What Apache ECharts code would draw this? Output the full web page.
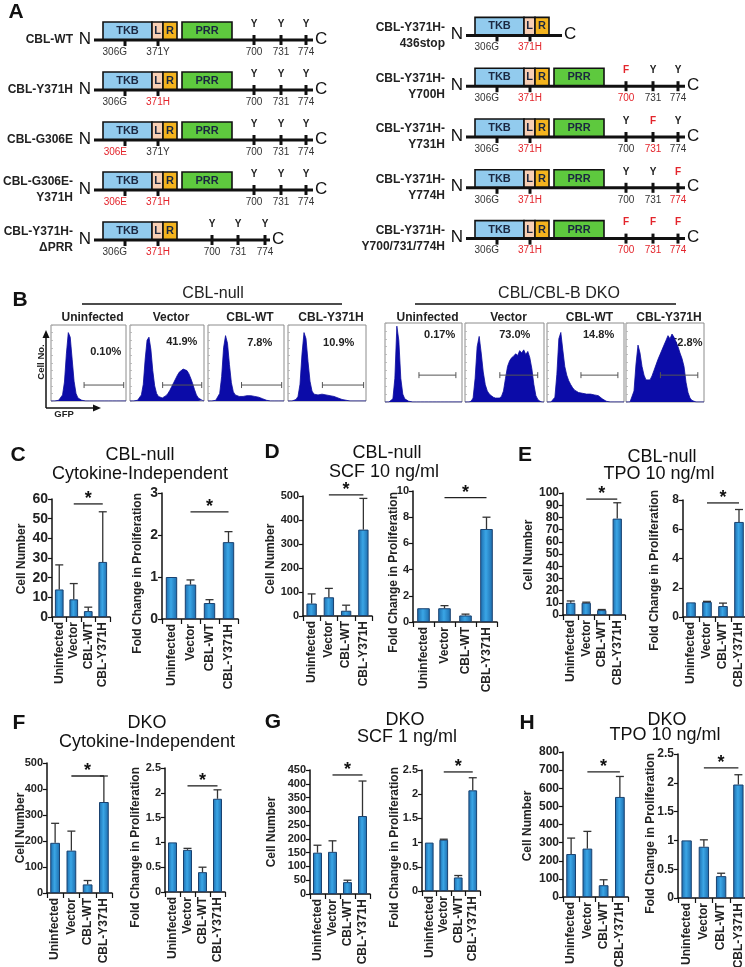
<!DOCTYPE html>
<html><head><meta charset="utf-8">
<script src="https://cdn.jsdelivr.net/npm/echarts@6/dist/echarts.min.js"></script>
<style>html,body{margin:0;padding:0;background:#fff}#c{width:745px;height:967px}</style>
</head><body><div id="c"></div>
<script>
const FONT = '"Liberation Sans", Arial, Helvetica, sans-serif';
const NARROW = '"Liberation Sans Narrow", "Liberation Sans", Arial, sans-serif';

// ================= DATA =================
// ---- Panel A: constructs ----
const aLeftNames   = ['CBL-WT','CBL-Y371H','CBL-G306E','CBL-G306E-\nY371H','CBL-Y371H-\nΔPRR'];
const aLeftSite306 = ['306G','306G','306E','306E','306G'];
const aLeftSite371 = ['371Y','371H','371Y','371H','371H'];
const aLeftMut306  = [false,false,true,true,false];
const aLeftMut371  = [false,true,false,true,true];
const aLeftHasPRR  = [true,true,true,true,false];
const aLeftTyr     = [['Y','Y','Y'],['Y','Y','Y'],['Y','Y','Y'],['Y','Y','Y'],['Y','Y','Y']];
const aLeftTyrPos  = [[160,187,212],[160,187,212],[160,187,212],[160,187,212],[118,144,171]];
const aLeftLineEnd = [219,219,219,219,176];

const aRightNames   = ['CBL-Y371H-\n436stop','CBL-Y371H-\nY700H','CBL-Y371H-\nY731H','CBL-Y371H-\nY774H','CBL-Y371H-\nY700/731/774H'];
const aRightSite306 = ['306G','306G','306G','306G','306G'];
const aRightSite371 = ['371H','371H','371H','371H','371H'];
const aRightMut306  = [false,false,false,false,false];
const aRightMut371  = [true,true,true,true,true];
const aRightHasPRR  = [false,true,true,true,true];
const aRightTyr     = [[],['F','Y','Y'],['Y','F','Y'],['Y','Y','F'],['F','F','F']];
const aRightTyrPos  = [[],[160,187,212],[160,187,212],[160,187,212],[160,187,212]];
const aRightLineEnd = [96,219,219,219,219];

const tyrNumbers  = ['700','731','774'];
const domainNames = ['TKB','L','R','PRR'];
const domainStart = [9,58,69,88];
const domainEnd   = [58,69,83,138];
const site306Pos = 31, site371Pos = 64;

// ---- Panel B: GFP histograms (40 bins, % of box height) ----
const histTitles = ['Uninfected','Vector','CBL-WT','CBL-Y371H'];
const nullUninf = [0,0,0,0,1,3,8,25,62,90,84,55,26,10,4,2,1,0,0,0, 0,0,0,0,0,0,0,0,0,0, 0,0,0,0,0,0,0,0,0,0];
const nullVector= [0,0,0,0,1,3,8,22,55,80,84,68,40,20,10,6,4,4,5,7, 10,14,19,24,29,34,38,40,42,41, 40,36,30,23,15,8,4,2,1,0];
const nullWT    = [0,0,0,0,1,3,10,32,70,86,76,48,24,12,8,7,6,6,6,6, 7,7,7,6,6,6,5,4,3,2, 1,1,0,0,0,0,0,0,0,0];
const nullY371H = [0,0,0,0,2,6,22,62,90,82,52,26,13,9,8,8,9,9,9,8, 8,7,7,6,5,4,3,2,1,1, 0,0,0,0,0,0,0,0,0,0];
const dkoUninf  = [0,0,0,1,4,30,96,78,30,10,4,2,1,0,0,0,0,0,0,0, 0,0,0,0,0,0,0,0,0,0, 0,0,0,0,0,0,0,0,0,0];
const dkoVector = [0,0,0,1,5,30,70,83,62,38,22,14,10,8,6,5,5,5,7,14, 30,45,52,56,58,61,59,65,62,66, 60,64,56,42,22,8,3,1,0,0];
const dkoWT     = [0,0,0,1,6,35,80,88,66,45,34,27,22,18,15,13,12,11,11,11, 10,10,10,10,9,9,8,6,4,2, 1,0,0,0,0,0,0,0,0,0];
const dkoY371H  = [0,0,0,2,14,48,72,62,45,34,28,26,28,33,40,47,54,60,66,72, 78,84,80,86,82,76,70,62,55,45, 25,12,5,2,1,0,0,0,0,0];
const nullPct = ['0.10%','41.9%','7.8%','10.9%'];
const dkoPct  = ['0.17%','73.0%','14.8%','52.8%'];
const nullGate = [17.2, 37.8, 21];   // start bin, end bin, level
const dkoGate  = [17.2, 35.9, 34];

// ---- Panels C-H: bar charts ----
const barCats = ['Uninfected','Vector','CBL-WT','CBL-Y371H'];
const cNumMean = [14,9,3,28],      cNumSD = [12.5,8,2,25.5];
const cFoldMean= [1,0.82,0.38,1.83],cFoldSD= [0,0.11,0.08,0.25];
const dNumMean = [52,78,22,360],   dNumSD = [40,37,23,130];
const dFoldMean= [1.05,1.05,0.5,7.1],dFoldSD=[0,0.2,0.1,0.9];
const eNumMean = [10,10,4,79],     eNumSD = [1.5,0.5,0.5,13];
const eFoldMean= [1,1.03,0.75,6.5],eFoldSD= [0,0.04,0.2,0.85];
const fNumMean = [193,163,33,350], fNumSD = [75,75,15,100];
const fFoldMean= [1,0.85,0.4,1.88],fFoldSD= [0,0.03,0.1,0.18];
const gNumMean = [150,153,43,283], gNumSD = [27,40,7,127];
const gFoldMean= [1,1.06,0.28,2.08],gFoldSD=[0,0.01,0.04,0.26];
const hNumMean = [237,267,65,552], hNumSD = [88,95,30,113];
const hFoldMean= [1,0.89,0.38,1.97],hFoldSD=[0,0.12,0.05,0.17];
const numAxisMax  = [60,500,100,500,450,800];
const numAxisInt  = [10,100,10,100,50,100];
const foldAxisMax = [3,10,8,2.5,2.5,2.5];
const foldAxisInt = [1,2,2,0.5,0.5,0.5];
const sigNumLevel  = [57.5,505,95,450,432,690];
const sigFoldLevel = [2.55,9.5,7.8,2.14,2.46,2.26];
const sigFrom = 1, sigTo = 3;

// ================= LAYOUT / STYLE =================
const RED = '#e3242b';
const domainColors = ['#92CBEE','#F8CFB4','#F4B41E','#5EC93E'];
const nullBoxes = [[51,325,75,76],[130,325,74,76],[208,325,76,76],[288,325,78,76]];
const dkoBoxes  = [[385,323,77,79],[465,323,79,79],[547,323,77,79],[626,323,78,79]];
const nullPctPos = [[0.73,0.64],[0.70,0.78],[0.68,0.77],[0.65,0.77]];
const dkoPctPos  = [[0.71,0.85],[0.63,0.85],[0.67,0.85],[0.78,0.75]];
const numRects  = [[52,110,499,617],[303,372,496,616],[563,625,493,615],[47,112,763,893],[310,370,770,894],[563,628,752,897]];
const foldRects = [[162,238,493,619],[413,497,491,622],[683,747,500,617],[165,225,768,892],[422,480,770,891],[678,747,754,898]];
const tickLabelSize = [14,11,12,11,11,12];
const cellNumPos = [[22,559],[271,559],[529,555],[21,828],[272,832],[528,826]];
const foldTopPos = [[138,493],[394,492],[655,490],[136,767],[395,767],[651,753]];
const panelLetters = [['A',16,12],['B',20,300],['C',18,455],['D',272,452],['E',525,455],['F',19,723],['G',273,722],['H',527,723]];
const panelTitles = [['CBL-null',140,455],['Cytokine-Independent',140,474],['CBL-null',387,453],['SCF 10 ng/ml',384,472],
  ['CBL-null',662,457],['TPO 10 ng/ml',659,474],['DKO',147,723],['Cytokine-Independent',147,742],
  ['DKO',405,720],['SCF 1 ng/ml',407,737],['DKO',667,720],['TPO 10 ng/ml',665,735]];

// ================= BUILD =================
const grid=[], xAxis=[], yAxis=[], series=[], graphic=[];
function addGrid(g){ grid.push(Object.assign({outerBoundsMode:'none', containLabel:false}, g)); return grid.length-1; }
function T(text, x, y, font, fill, align, valign, rot){
  const o = {type:'text', x:x, y:y, silent:true, style:{text:text, font:font, fill:fill||'#222',
    textAlign:align||'center', textVerticalAlign:valign||'middle', align:align||'center', verticalAlign:valign||'middle'}};
  if (rot) o.rotation = rot;
  return o;
}
function L(x1,y1,x2,y2,stroke,w){ return {type:'line', silent:true, shape:{x1,y1,x2,y2}, style:{stroke:stroke||'#111', lineWidth:w||1}}; }

// ---- Panel A ----
function makeConstructRenderer(col){
  return function(params, api){
    const i = params.dataIndex;
    const P = v => api.coord([v, i]);
    const p0 = P(0), y = p0[1], x0 = p0[0], xe = P(col.lineEnd[i])[0];
    const ch = [];
    for (let d=0; d<domainNames.length; d++){
      if (domainNames[d]==='PRR' && !col.hasPRR[i]) continue;
      const xa = P(domainStart[d])[0], xb = P(domainEnd[d])[0];
      ch.push({type:'rect', shape:{x:xa, y:y-18, width:xb-xa, height:18}, style:{fill:domainColors[d], stroke:'#111', lineWidth:1.6}});
      ch.push(T(domainNames[d], (xa+xb)/2, y-9, 'bold 11px '+FONT, '#1b2740'));
    }
    ch.push(L(x0, y, xe, y, '#111', 3));
    ch.push(T('N', x0-9, y-1, '17px '+FONT, '#111'));
    ch.push(T('C', xe+2, y-1, '17px '+FONT, '#111', 'left'));
    [[site306Pos, col.site306[i], col.mut306[i]],[site371Pos, col.site371[i], col.mut371[i]]].forEach(function(s){
      const sx = P(s[0])[0];
      ch.push(L(sx, y, sx, y+6, '#111', 3));
      ch.push(T(s[1], s[0]===site306Pos ? sx+2 : sx, y+12, '10px '+NARROW, s[2]?RED:'#333', s[0]===site306Pos ? 'right':'center'));
    });
    col.tyr[i].forEach(function(aa, k){
      const tx = P(col.tyrPos[i][k])[0];
      const mut = aa==='F';
      ch.push(L(tx, y-5, tx, y+5, '#111', 3));
      ch.push(T(aa, tx, y-16, 'bold 10px '+FONT, mut?RED:'#222'));
      ch.push(T(tyrNumbers[k], tx, y+12, '10px '+NARROW, mut?RED:'#333'));
    });
    return {type:'group', children:ch};
  };
}
function addConstructColumn(left, top, height, col){
  const gi = addGrid({left:left, top:top, width:240, height:height});
  xAxis.push({gridIndex:gi, type:'value', min:0, max:240, show:false});
  yAxis.push({gridIndex:gi, type:'category', inverse:true, data:col.names,
    axisLine:{show:false}, axisTick:{show:false}, splitLine:{show:false},
    axisLabel:{margin:21, fontFamily:FONT, fontWeight:'bold', fontSize:12, color:'#222', lineHeight:16, align:'right'}});
  series.push({type:'custom', xAxisIndex:xAxis.length-1, yAxisIndex:yAxis.length-1, clip:false, silent:true,
    data: col.names.map((n,i)=>[col.lineEnd[i], i]), encode:{x:0, y:1}, renderItem: makeConstructRenderer(col)});
}
addConstructColumn(94, 15, 250, {names:aLeftNames, site306:aLeftSite306, site371:aLeftSite371, mut306:aLeftMut306,
  mut371:aLeftMut371, hasPRR:aLeftHasPRR, tyr:aLeftTyr, tyrPos:aLeftTyrPos, lineEnd:aLeftLineEnd});
addConstructColumn(466, 10, 254, {names:aRightNames, site306:aRightSite306, site371:aRightSite371, mut306:aRightMut306,
  mut371:aRightMut371, hasPRR:aRightHasPRR, tyr:aRightTyr, tyrPos:aRightTyrPos, lineEnd:aRightLineEnd});

// ---- Panel B ----
function gateRenderer(params, api){
  const a = api.coord([api.value(0), api.value(2)]), b = api.coord([api.value(1), api.value(2)]);
  return {type:'group', children:[
    L(a[0],a[1],b[0],b[1],'#555',1), L(a[0],a[1]-3,a[0],a[1]+3,'#555',1), L(b[0],b[1]-3,b[0],b[1]+3,'#555',1)]};
}
function addHist(box, hist, gate, title, pct, pctPos){
  const gi = addGrid({left:box[0], top:box[1], width:box[2], height:box[3], show:true, borderColor:'#8c8c8c', borderWidth:1});
  xAxis.push({gridIndex:gi, type:'value', min:0, max:hist.length-1, show:false});
  yAxis.push({gridIndex:gi, type:'value', min:0, max:100, interval:10, axisLine:{show:false}, axisLabel:{show:false},
    splitLine:{show:false}, axisTick:{show:true, inside:true, length:2, lineStyle:{color:'#b0b0b0', width:0.8}}});
  const xi = xAxis.length-1, yi = yAxis.length-1;
  series.push({type:'line', xAxisIndex:xi, yAxisIndex:yi, silent:true, symbol:'none', data:hist.map((v,k)=>[k,v]),
    lineStyle:{color:'#0c0c9c', width:0.8}, areaStyle:{color:'#0b0ba8', opacity:1}});
  series.push({type:'custom', xAxisIndex:xi, yAxisIndex:yi, silent:true, clip:false, data:[gate], renderItem:gateRenderer, z:5});
  graphic.push(T(title, box[0]+box[2]/2+4, 318, 'bold 12px '+FONT, '#222'));
  graphic.push(T(pct, box[0]+box[2]*pctPos[0], box[1]+box[3]*(1-pctPos[1]), 'bold 11px '+FONT, '#222'));
}
const nullHists = [nullUninf, nullVector, nullWT, nullY371H];
const dkoHists  = [dkoUninf, dkoVector, dkoWT, dkoY371H];
for (let k=0;k<4;k++) addHist(nullBoxes[k], nullHists[k], nullGate, histTitles[k], nullPct[k], nullPctPos[k]);
for (let k=0;k<4;k++) addHist(dkoBoxes[k], dkoHists[k], dkoGate, histTitles[k], dkoPct[k], dkoPctPos[k]);
graphic.push(T('CBL-null', 213, 294, '16px '+FONT, '#222'));
graphic.push(L(82,304,342,304,'#111',1.3));
graphic.push(T('CBL/CBL-B DKO', 559, 294, '16px '+FONT, '#222'));
graphic.push(L(415,304,676,304,'#111',1.3));
graphic.push(T('Cell No.', 41, 362, 'bold 9.5px '+FONT, '#222', 'center', 'middle', Math.PI/2));
graphic.push(L(46,408,46,336,'#111',1.5));
graphic.push({type:'polygon', silent:true, shape:{points:[[46,330],[42.5,338],[49.5,338]]}, style:{fill:'#111'}});
graphic.push(L(46,408,95,408,'#111',1.5));
graphic.push({type:'polygon', silent:true, shape:{points:[[101,408],[93,404.5],[93,411.5]]}, style:{fill:'#111'}});
graphic.push(T('GFP', 64, 414, 'bold 9.5px '+FONT, '#222'));

// ---- Panels C-H ----
const barGradient = {type:'linear', x:0, y:0, x2:1, y2:0, colorStops:[
  {offset:0, color:'#1c6aab'},{offset:0.45, color:'#3aa6e6'},{offset:1, color:'#1c6aab'}]};
function errRenderer(params, api){
  if (!(api.value(3) > 0)) return {type:'group', children:[]};
  const k = api.value(0);
  const p0 = api.coord([k, api.value(1)]), p1 = api.coord([k, api.value(2)]);
  return {type:'group', children:[L(p0[0],p0[1],p1[0],p1[1],'#333',1.3), L(p1[0]-4,p1[1],p1[0]+4,p1[1],'#333',1.3)]};
}
function sigRenderer(params, api){
  const a = api.coord([api.value(0), api.value(2)]), b = api.coord([api.value(1), api.value(2)]);
  return {type:'group', children:[L(a[0],a[1],b[0],b[1],'#222',1.3), T('*', (a[0]+b[0])/2, a[1]-5, 'bold 18px '+FONT, '#111')]};
}
function addBarChart(rect, mean, sd, max, interval, sig, labelSize){
  const gi = addGrid({left:rect[0], top:rect[2], width:rect[1]-rect[0], height:rect[3]-rect[2]});
  xAxis.push({gridIndex:gi, type:'category', data:barCats,
    axisLine:{show:true, lineStyle:{color:'#111', width:1.5}},
    axisTick:{show:true, length:5, alignWithLabel:false, lineStyle:{color:'#111', width:1.2}},
    axisLabel:{rotate:90, interval:0, fontFamily:FONT, fontWeight:'bold', fontSize:12, color:'#222', margin:5},
    splitLine:{show:false}});
  yAxis.push({gridIndex:gi, type:'value', min:0, max:max, interval:interval,
    axisLine:{show:true, lineStyle:{color:'#111', width:1.5}},
    axisTick:{show:true, length:4, lineStyle:{color:'#111', width:1.2}},
    axisLabel:{fontFamily:FONT, fontWeight:'bold', fontSize:labelSize, color:'#222', margin:4},
    splitLine:{show:false}});
  const xi = xAxis.length-1, yi = yAxis.length-1;
  series.push({type:'bar', xAxisIndex:xi, yAxisIndex:yi, silent:true, data:mean, barWidth:'60%',
    itemStyle:{color:barGradient, borderColor:'#1a4270', borderWidth:1}});
  series.push({type:'custom', xAxisIndex:xi, yAxisIndex:yi, silent:true, clip:false, z:3,
    data:mean.map((m,k)=>[k, m, m+sd[k], sd[k]]), encode:{x:0, y:[1,2]}, renderItem:errRenderer});
  series.push({type:'custom', xAxisIndex:xi, yAxisIndex:yi, silent:true, clip:false, z:3,
    data:[[sigFrom, sigTo, sig]], encode:{x:0, y:2}, renderItem:sigRenderer});
}
const numMeans = [cNumMean,dNumMean,eNumMean,fNumMean,gNumMean,hNumMean];
const numSDs   = [cNumSD,dNumSD,eNumSD,fNumSD,gNumSD,hNumSD];
const foldMeans= [cFoldMean,dFoldMean,eFoldMean,fFoldMean,gFoldMean,hFoldMean];
const foldSDs  = [cFoldSD,dFoldSD,eFoldSD,fFoldSD,gFoldSD,hFoldSD];
for (let p=0;p<6;p++){
  const ls = tickLabelSize[p];
  addBarChart(numRects[p], numMeans[p], numSDs[p], numAxisMax[p], numAxisInt[p], sigNumLevel[p], ls);
  addBarChart(foldRects[p], foldMeans[p], foldSDs[p], foldAxisMax[p], foldAxisInt[p], sigFoldLevel[p], ls);
  graphic.push(T('Cell Number', cellNumPos[p][0], cellNumPos[p][1], 'bold 12px '+FONT, '#222', 'center', 'middle', Math.PI/2));
  graphic.push(T('Fold Change in Proliferation', foldTopPos[p][0], foldTopPos[p][1], 'bold 12px '+FONT, '#222', 'right', 'middle', Math.PI/2));
}
panelLetters.forEach(l => graphic.push(T(l[0], l[1], l[2], 'bold 21px '+FONT, '#111')));
panelTitles.forEach(t => graphic.push(T(t[0], t[1], t[2], '18px '+FONT, '#111')));

const chart = echarts.init(document.getElementById('c'));
chart.setOption({animation:false, backgroundColor:'#fff', grid, xAxis, yAxis, series, graphic:{elements:graphic}});
</script></body></html>
